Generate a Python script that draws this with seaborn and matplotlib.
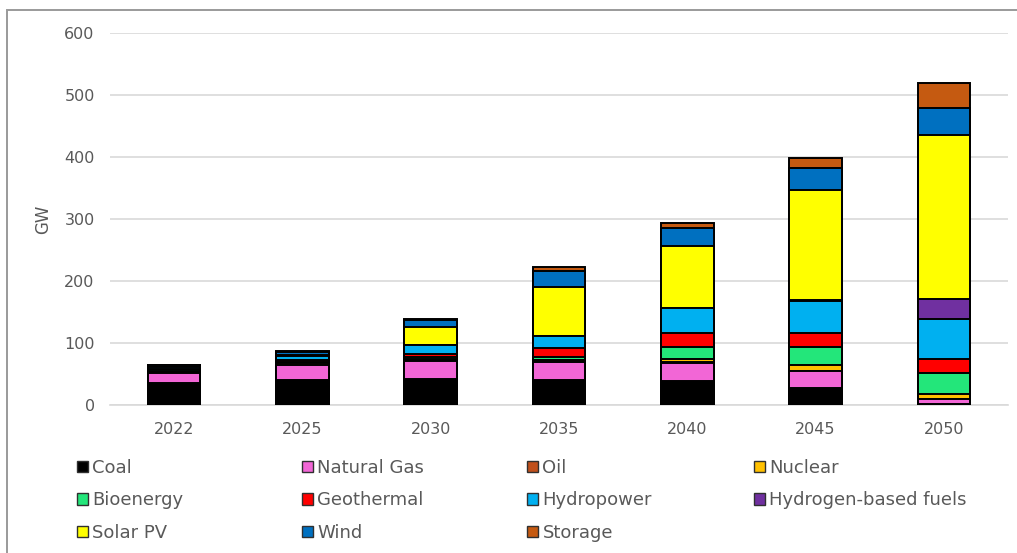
import pandas as pd
import matplotlib.pyplot as plt
import seaborn as sns
from matplotlib.patches import Patch, Rectangle

# Data (GW)
years = ["2022", "2025", "2030", "2035", "2040", "2045", "2050"]
series = ["Coal", "Natural Gas", "Oil", "Nuclear", "Bioenergy", "Geothermal",
          "Hydropower", "Hydrogen-based fuels", "Solar PV", "Wind", "Storage"]
coal = [35, 40, 42, 40, 38, 27, 2]
natural_gas = [16, 24, 29, 30, 30, 28, 8]
oil = [3, 3, 2, 2, 1, 0, 0]
nuclear = [0, 0, 1, 1, 6, 9, 7]
bioenergy = [2, 2, 4, 5, 19, 30, 35]
geothermal = [2, 4, 5, 14, 22, 22, 22]
hydropower = [4, 6, 14, 19, 40, 51, 65]
hydrogen = [0, 0, 0, 0, 0, 3, 32]
solar_pv = [0, 1, 29, 79, 100, 176, 265]
wind = [3, 6, 11, 26, 29, 37, 43]
storage = [0, 1, 2, 6, 8, 16, 40]

colors = {
    "Coal": "#000000", "Natural Gas": "#F266D6", "Oil": "#C0501C",
    "Nuclear": "#FFC000", "Bioenergy": "#23E67A", "Geothermal": "#FF0000",
    "Hydropower": "#00B0F0", "Hydrogen-based fuels": "#7030A0",
    "Solar PV": "#FFFF00", "Wind": "#0070C0", "Storage": "#C55A11",
}

df = pd.DataFrame({
    "year": years, "Coal": coal, "Natural Gas": natural_gas, "Oil": oil,
    "Nuclear": nuclear, "Bioenergy": bioenergy, "Geothermal": geothermal,
    "Hydropower": hydropower, "Hydrogen-based fuels": hydrogen,
    "Solar PV": solar_pv, "Wind": wind, "Storage": storage,
})
cum = df[series].cumsum(axis=1)
cum["year"] = df["year"]

sns.set_theme(style="white")
plt.rcParams["font.family"] = ["DejaVu Sans"]
text_col = "#595959"

fig = plt.figure(figsize=(10.17, 5.53), dpi=100)
ax = fig.add_axes([110 / 1017, 1 - 405 / 553, 898 / 1017, 372 / 553])

# stacked bars: draw cumulative totals from the top series down
for s in reversed(series):
    sns.barplot(data=cum, x="year", y=s, color=colors[s], edgecolor="black",
                linewidth=1.4, width=0.41, saturation=1, ax=ax, zorder=3)

ax.set_ylim(0, 600)
ax.set_yticks(range(0, 601, 100))
ax.yaxis.grid(True, color="#d9d9d9", linewidth=1.2, zorder=0)
ax.set_axisbelow(True)
for sp in ["top", "right", "left"]:
    ax.spines[sp].set_visible(False)
ax.spines["bottom"].set_color("#d9d9d9")
ax.spines["bottom"].set_linewidth(1.2)
ax.tick_params(axis="both", length=0, labelsize=11.5, labelcolor=text_col)
ax.tick_params(axis="y", pad=11)
ax.tick_params(axis="x", pad=12)
ax.set_xlabel("")
ax.set_ylabel("GW", fontsize=12, color=text_col, labelpad=9)

# legend laid out in four columns like the reference
handles = {s: Patch(facecolor=colors[s], edgecolor="#303030", linewidth=1.0) for s in series}
columns = [["Coal", "Bioenergy", "Solar PV"],
           ["Natural Gas", "Geothermal", "Wind"],
           ["Oil", "Hydropower", "Storage"],
           ["Nuclear", "Hydrogen-based fuels"]]
col_x = [68, 293, 518, 745]
for names, x in zip(columns, col_x):
    fig.legend([handles[n] for n in names], names, loc="upper left",
               bbox_to_anchor=(x / 1017, 1 - 450 / 553), frameon=False,
               fontsize=13, handlelength=0.6, handleheight=0.6,
               handletextpad=0.25, labelspacing=0.8, borderpad=0,
               labelcolor=text_col)

# outer frame of the chart area (left and top edges visible)
fig.add_artist(Rectangle((7 / 1017, -0.05), 1.1, 1.05 - 10 / 553,
                         transform=fig.transFigure, fill=False,
                         edgecolor="#9a9a9a", linewidth=1.4))

fig.savefig("out.png", dpi=100)
